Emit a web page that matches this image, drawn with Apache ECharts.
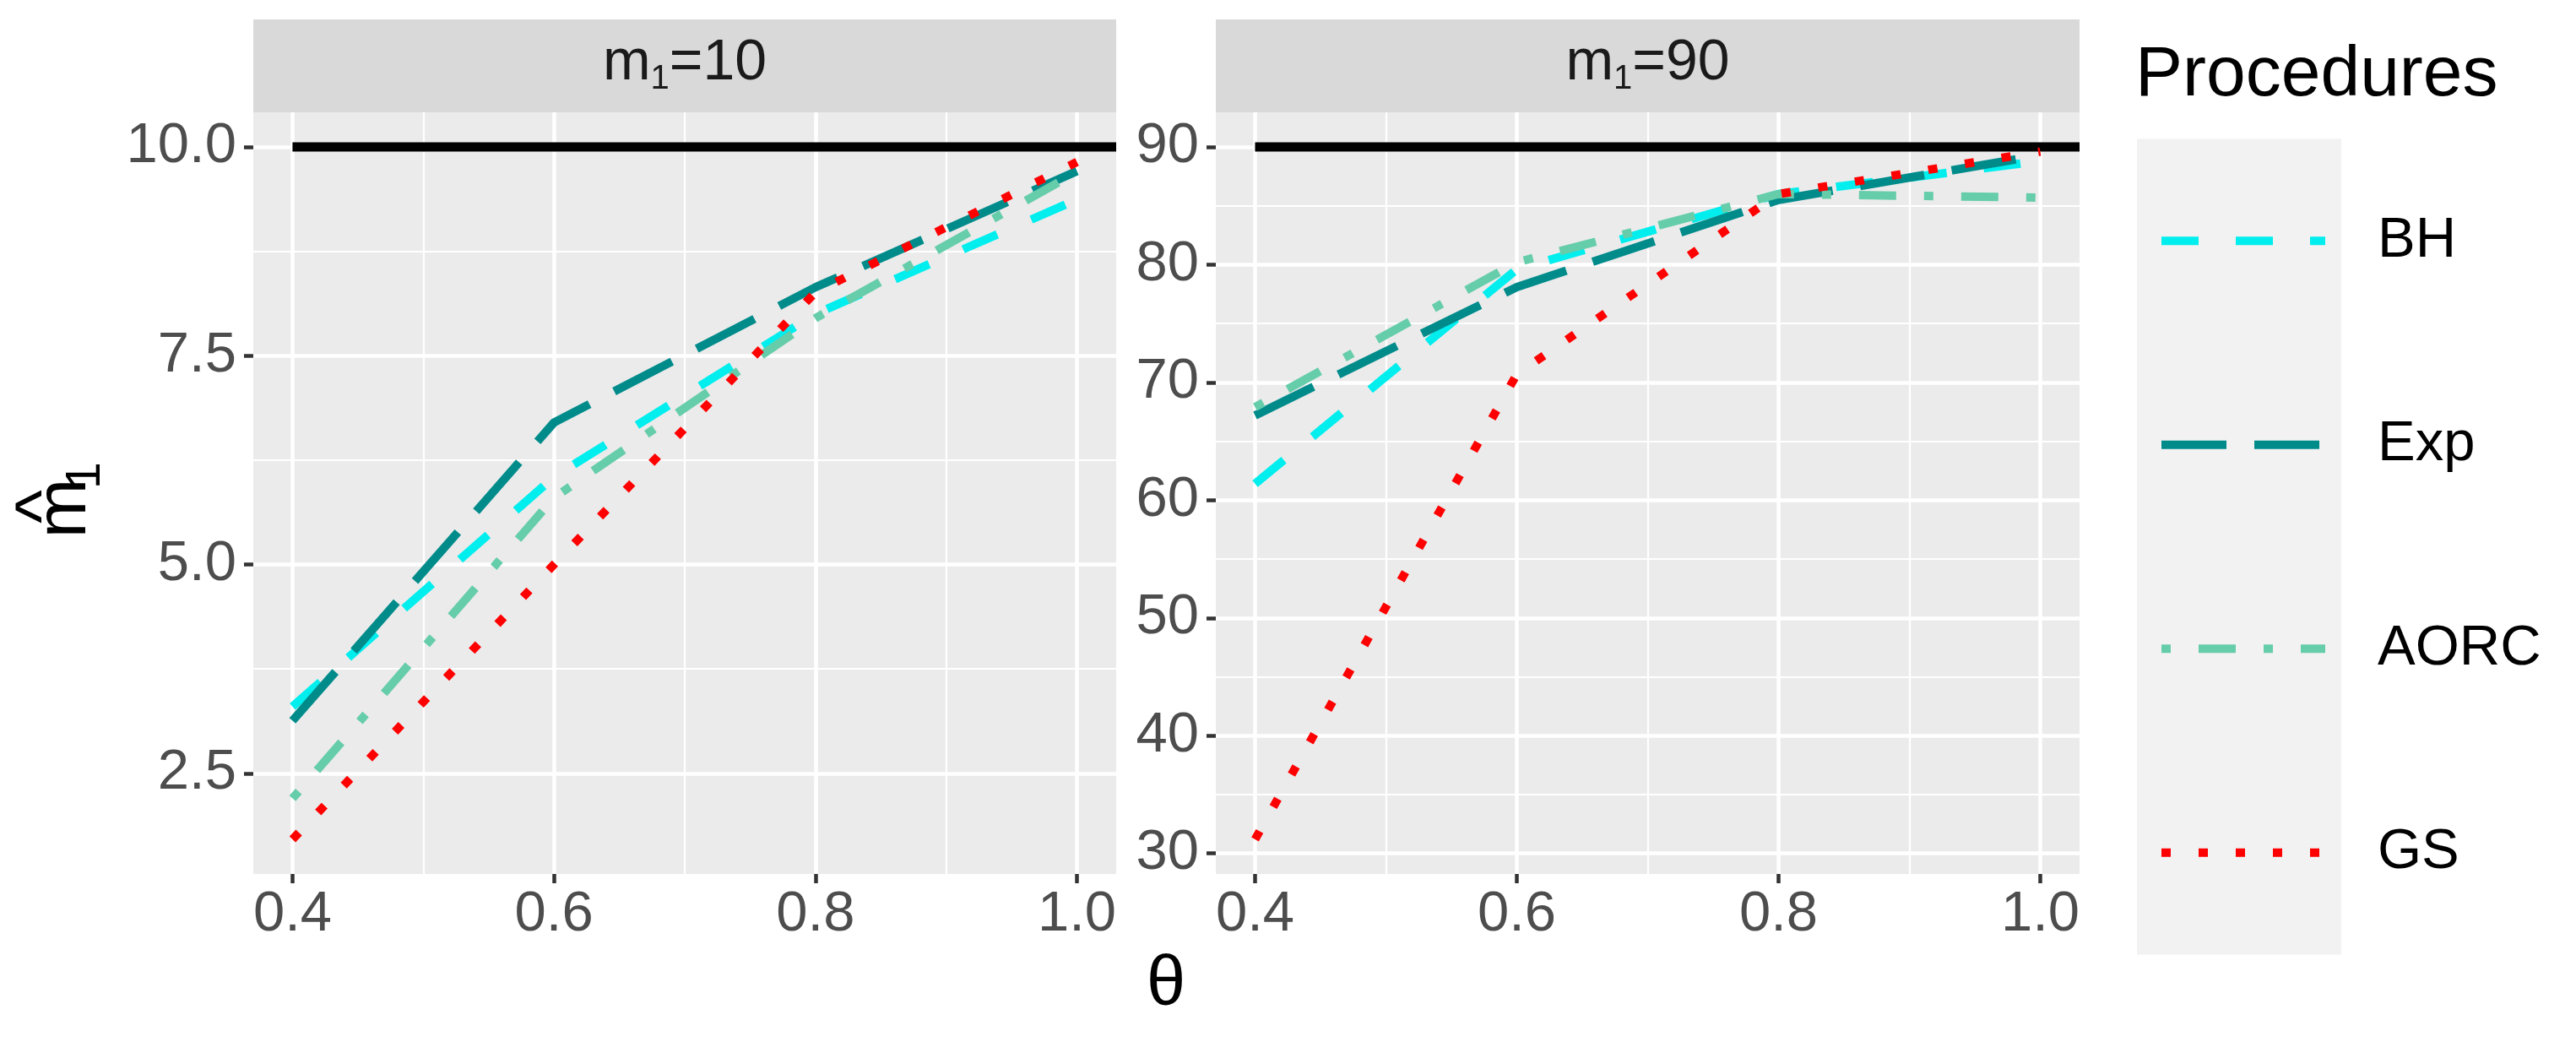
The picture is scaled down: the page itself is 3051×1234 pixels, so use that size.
<!DOCTYPE html>
<html lang="en">

<head>
    <meta charset="UTF-8">
    <title>m1 estimates by procedure</title>
    <script src="https://cdn.jsdelivr.net/npm/echarts@6.0.0/dist/echarts.min.js"></script>
    <style>
        html, body { margin: 0; padding: 0; background: #fff; }
        #mChart { width: 3051px; height: 1234px; }
    </style>
</head>

<body>
    <div id="mChart"></div>

    <script type="text/javascript">
        // data
        const thetas = [0.4, 0.6, 0.8, 1.0]
        const procedures = ['BH', 'Exp', 'AORC', 'GS']
        const panelLabels = ['10', '90']
        const refLevels = [10, 90]

        const bh10 = [3.3, 6.05, 8.0, 9.37]
        const exp10 = [3.13, 6.7, 8.32, 9.71]
        const aorc10 = [2.2, 5.8, 7.95, 9.7]
        const gs10 = [1.71, 5.0, 8.26, 9.82]

        const bh90 = [61.4, 79.6, 86.0, 88.8]
        const exp90 = [67.2, 78.1, 85.5, 89.3]
        const aorc90 = [67.9, 80.2, 86.0, 85.7]
        const gs90 = [31.2, 70.7, 86.0, 89.6]

        const xTicks = [0.4, 0.6, 0.8, 1.0]
        const xMinor = [0.5, 0.7, 0.9]
        const yTicks10 = [2.5, 5.0, 7.5, 10.0]
        const yMinor10 = [3.75, 6.25, 8.75]
        const yTicks90 = [30, 40, 50, 60, 70, 80, 90]
        const yMinor90 = [35, 45, 55, 65, 75, 85]

        const panelData = [
            [bh10, exp10, aorc10, gs10],
            [bh90, exp90, aorc90, gs90]
        ]

        const colors = ['#00EEEE', '#008B8B', '#66CDAA', '#FF0000']
        const dashes = [[44, 44], [77, 33], [11, 33, 44, 33], [11, 33]]

        const FONT = '"Liberation Sans", Arial, sans-serif'

        // ggplot-like 5% expansion
        function expand(lo, hi) {
            const r = hi - lo
            return [lo - r * 0.05, hi + r * 0.05]
        }
        const xRange = expand(0.4, 1.0)
        const yRanges = panelData.map((vals, i) => {
            const all = [].concat(...vals, [refLevels[i]])
            return expand(Math.min(...all), Math.max(...all))
        })

        const grids = [
            { left: 300, top: 133, width: 1022, height: 902 },
            { left: 1440, top: 133, width: 1023, height: 902 }
        ]

        const xAxes = [], yAxes = [], series = []

        grids.forEach((g, p) => {
            g.show = true
            g.backgroundColor = '#EBEBEB'
            g.borderWidth = 0

            xAxes.push({
                gridIndex: p, type: 'value', min: xRange[0], max: xRange[1],
                axisLine: { show: false },
                axisTick: { show: true, length: 11, customValues: xTicks, lineStyle: { color: '#333333', width: 4.5 } },
                axisLabel: { customValues: xTicks, formatter: v => v.toFixed(1), fontSize: 67, color: '#4D4D4D', margin: 15, fontFamily: FONT },
                splitLine: { show: true, lineStyle: { color: '#FFFFFF', width: 4.5 } }
            })
            yAxes.push({
                gridIndex: p, type: 'value', min: yRanges[p][0], max: yRanges[p][1],
                axisLine: { show: false },
                axisTick: { show: true, length: 11, customValues: p === 0 ? yTicks10 : yTicks90, lineStyle: { color: '#333333', width: 4.5 } },
                axisLabel: {
                    customValues: p === 0 ? yTicks10 : yTicks90,
                    formatter: v => p === 0 ? v.toFixed(1) : String(Math.round(v)),
                    fontSize: 67, color: '#4D4D4D', margin: 20, fontFamily: FONT
                },
                splitLine: { show: true, lineStyle: { color: '#FFFFFF', width: 4.5 } }
            })
        })
        // minor grid lines on helper axes
        grids.forEach((g, p) => {
            xAxes.push({
                gridIndex: p, type: 'value', position: 'top', min: xRange[0], max: xRange[1],
                axisLine: { show: false }, axisLabel: { show: false },
                axisTick: { show: false, customValues: xMinor },
                splitLine: { show: true, lineStyle: { color: '#FFFFFF', width: 2.2 } }
            })
            yAxes.push({
                gridIndex: p, type: 'value', position: 'right', min: yRanges[p][0], max: yRanges[p][1],
                axisLine: { show: false }, axisLabel: { show: false },
                axisTick: { show: false, customValues: p === 0 ? yMinor10 : yMinor90 },
                splitLine: { show: true, lineStyle: { color: '#FFFFFF', width: 2.2 } }
            })
        })

        panelData.forEach((vals, p) => {
            series.push({
                type: 'line', xAxisIndex: p, yAxisIndex: p, symbol: 'none', silent: true,
                data: [[0.4, refLevels[p]], [xRange[1], refLevels[p]]],
                lineStyle: { color: '#000000', width: 11 }
            })
            vals.forEach((arr, k) => {
                series.push({
                    type: 'line', name: procedures[k], xAxisIndex: p, yAxisIndex: p,
                    symbol: 'none', silent: true,
                    data: thetas.map((t, i) => [t, arr[i]]),
                    lineStyle: { color: colors[k], width: 10, type: dashes[k], cap: 'butt' },
                    itemStyle: { color: colors[k] }
                })
            })
        })

        // strip labels and titles
        const graphics = []
        grids.forEach((g, p) => {
            const cx = g.left + g.width / 2
            graphics.push({ type: 'rect', shape: { x: g.left, y: 23, width: g.width, height: 110 }, style: { fill: '#D9D9D9' }, silent: true })
            graphics.push({ type: 'text', x: cx - 97, y: 75, style: { text: 'm', fontSize: 68, fontFamily: FONT, fill: '#1A1A1A', align: 'left', verticalAlign: 'middle' } })
            graphics.push({ type: 'text', x: cx - 40.4, y: 94, style: { text: '1', fontSize: 40, fontFamily: FONT, fill: '#1A1A1A', align: 'left', verticalAlign: 'middle' } })
            graphics.push({ type: 'text', x: cx - 18.2, y: 75, style: { text: '=' + panelLabels[p], fontSize: 68, fontFamily: FONT, fill: '#1A1A1A', align: 'left', verticalAlign: 'middle' } })
        })
        // y title: m-hat sub 1, rotated
        graphics.push({
            type: 'group', x: 106, y: 602, rotation: Math.PI / 2,
            children: [
                { type: 'text', x: 0, y: -28, style: { text: 'm', fontSize: 85, fontFamily: FONT, fill: '#000', align: 'center', verticalAlign: 'middle' } },
                { type: 'text', x: 2, y: -52, style: { text: '^', fontSize: 85, fontFamily: FONT, fill: '#000', align: 'center', verticalAlign: 'middle' } },
                { type: 'text', x: 23, y: -4, style: { text: '1', fontSize: 57, fontFamily: FONT, fill: '#000', align: 'left', verticalAlign: 'middle' } }
            ]
        })
        graphics.push({ type: 'text', x: 1381, y: 1167, style: { text: 'θ', fontSize: 83, fontFamily: FONT, fill: '#000', align: 'center', verticalAlign: 'middle' } })
        // legend title and key background
        graphics.push({ type: 'text', x: 2529, y: 90, style: { text: 'Procedures', fontSize: 84, fontFamily: FONT, fill: '#000', align: 'left', verticalAlign: 'middle' } })
        graphics.push({ type: 'rect', shape: { x: 2531, y: 164.6, width: 242, height: 966 }, style: { fill: '#F2F2F2' }, silent: true })

        // each legend item's box is 0.8 * itemHeight tall (hidden symbol), so pad with itemGap
        const keyStep = 241.5
        const keyIconH = 241.5
        var mChart = echarts.init(document.getElementById('mChart'))
        mChart.setOption({
            animation: false,
            grid: grids,
            xAxis: xAxes,
            yAxis: yAxes,
            series: series,
            graphic: graphics,
            legend: {
                data: procedures,
                orient: 'vertical',
                left: 2555, top: 164.6 + keyIconH * 0.1,
                padding: 0,
                itemWidth: 194, itemHeight: keyIconH, itemGap: keyStep - keyIconH * 0.8,
                selectedMode: false,
                itemStyle: { color: 'rgba(0,0,0,0)', borderWidth: 0, opacity: 0 },
                lineStyle: { width: 10 },
                textStyle: { fontSize: 67, color: '#000', fontFamily: FONT, padding: [0, 0, 0, 57] }
            }
        })
    </script>
</body>

</html>
